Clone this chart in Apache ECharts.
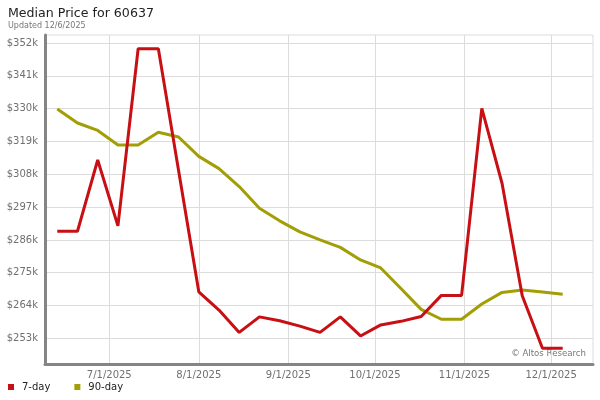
<!DOCTYPE html>
<html>
<head>
<meta charset="utf-8">
<script src="https://cdn.jsdelivr.net/npm/echarts@6/dist/echarts.min.js"></script>
<style>
  html, body { margin: 0; padding: 0; background: #fff; }
  #chart { width: 600px; height: 400px; }
</style>
</head>
<body>
<div id="chart"></div>
<script>
// ---- Data ----
const dates = [
  '2025-06-13','2025-06-20','2025-06-27','2025-07-04','2025-07-11','2025-07-18',
  '2025-07-25','2025-08-01','2025-08-08','2025-08-15','2025-08-22','2025-08-29',
  '2025-09-05','2025-09-12','2025-09-19','2025-09-26','2025-10-03','2025-10-10',
  '2025-10-17','2025-10-24','2025-10-31','2025-11-07','2025-11-14','2025-11-21',
  '2025-11-28','2025-12-05'
];
// values in $k
const sevenDay = [
  288.9, 288.9, 312.8, 290.7, 350.1, 350.1,
  309.3, 268.6, 262.5, 255.0, 260.2, 258.9,
  257.1, 255.0, 260.2, 253.8, 257.5, 258.7,
  260.3, 267.4, 267.4, 330.1, 305.0, 267.3,
  249.7, 249.7
];
const ninetyDay = [
  329.9, 325.2, 322.7, 317.8, 317.8, 322.1,
  320.5, 314.0, 309.9, 303.9, 296.6, 292.4,
  288.7, 286.0, 283.5, 279.3, 276.6, 269.7,
  262.7, 259.4, 259.4, 264.5, 268.4, 269.2,
  268.5, 267.8
];
const yTicks = [253, 264, 275, 286, 297, 308, 319, 330, 341, 352];
const xTicks = ['2025-07-01','2025-08-01','2025-09-01','2025-10-01','2025-11-01','2025-12-01'];
const seriesNames = ['7-day', '90-day'];

function toTime(s) {
  const p = s.split('-').map(Number);
  return new Date(p[0], p[1] - 1, p[2]).getTime();
}
function fmtDate(v) {
  const d = new Date(v);
  return (d.getMonth() + 1) + '/' + d.getDate() + '/' + d.getFullYear();
}

const font = 'DejaVu Sans';
const chart = echarts.init(document.getElementById('chart'), null, { renderer: 'canvas' });

const xMin = toTime('2025-06-08') + 18 * 3600e3;
const xMax = toTime('2025-12-15') + 12 * 3600e3;

chart.setOption({
  animation: false,
  backgroundColor: '#fff',
  title: {
    text: 'Median Price for 60637',
    subtext: 'Updated 12/6/2025',
    left: 3,
    top: 2,
    itemGap: 2,
    textStyle: { fontFamily: font, fontSize: 12.6, fontWeight: 'normal', color: '#222' },
    subtextStyle: { fontFamily: font, fontSize: 8, color: '#777' }
  },
  legend: {
    left: 8,
    bottom: 8,
    padding: 0,
    icon: 'rect',
    itemWidth: 6,
    itemHeight: 6,
    itemGap: 24,
    textStyle: { fontFamily: font, fontSize: 10, color: '#222', padding: [0, 0, 0, 3] },
    data: seriesNames
  },
  grid: {
    left: 45,
    right: 7,
    top: 35,
    bottom: 36,
    show: true,
    borderColor: '#dddddd',
    borderWidth: 1
  },
  xAxis: {
    type: 'value',
    min: xMin,
    max: xMax,
    axisLine: { show: true, lineStyle: { color: '#858585', width: 3 } },
    axisTick: { show: false, customValues: xTicks.map(toTime) },
    splitLine: { show: true, lineStyle: { color: '#dcdcdc', width: 1 } },
    axisLabel: {
      customValues: xTicks.map(toTime),
      formatter: fmtDate,
      fontFamily: font,
      fontSize: 10,
      color: '#707070',
      margin: 6,
      hideOverlap: false
    }
  },
  yAxis: {
    type: 'value',
    min: 244.4,
    max: 354.7,
    axisLine: { show: true, lineStyle: { color: '#858585', width: 3 } },
    axisTick: { show: false, customValues: yTicks },
    splitLine: { show: true, lineStyle: { color: '#dcdcdc', width: 1 } },
    axisLabel: {
      customValues: yTicks,
      formatter: v => '$' + Math.round(v) + 'k',
      fontFamily: font,
      fontSize: 10,
      color: '#707070',
      margin: 7
    }
  },
  graphic: [{
    type: 'text',
    right: 14,
    top: 349,
    style: { text: '\u00A9 Altos Research', fontFamily: font, fontSize: 8.6, fill: '#777' }
  }],
  series: [
    {
      name: seriesNames[0],
      type: 'line',
      data: dates.map((d, i) => [toTime(d), sevenDay[i]]),
      showSymbol: false,
      symbol: 'none',
      lineStyle: { color: '#c80f14', width: 3 },
      itemStyle: { color: '#c80f14' },
      z: 3
    },
    {
      name: seriesNames[1],
      type: 'line',
      data: dates.map((d, i) => [toTime(d), ninetyDay[i]]),
      showSymbol: false,
      symbol: 'none',
      lineStyle: { color: '#a29e06', width: 3 },
      itemStyle: { color: '#a29e06' },
      z: 2
    }
  ]
});
</script>
</body>
</html>
